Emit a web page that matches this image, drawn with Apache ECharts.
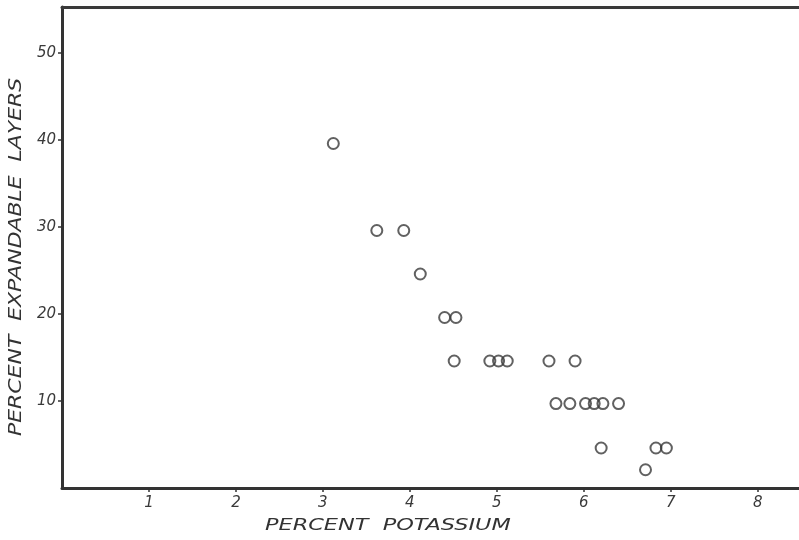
<!DOCTYPE html>
<html>
<head>
<meta charset="utf-8">
<script src="https://cdn.jsdelivr.net/npm/echarts@6/dist/echarts.min.js"></script>
<style>
html,body{margin:0;padding:0;background:#fff;}
#c{width:799px;height:540px;}
</style>
</head>
<body>
<div id="c"></div>
<script>
// Data
const potassium = [3.12, 3.62, 3.93, 4.12, 4.40, 4.53, 4.51, 4.92, 5.02, 5.12, 5.60, 5.90, 5.68, 5.84, 6.02, 6.12, 6.22, 6.40, 6.20, 6.83, 6.95, 6.71];
const expandable = [39.6, 29.6, 29.6, 24.6, 19.6, 19.6, 14.6, 14.6, 14.6, 14.6, 14.6, 14.6, 9.7, 9.7, 9.7, 9.7, 9.7, 9.7, 4.6, 4.6, 4.6, 2.1];
const xTicks = [1, 2, 3, 4, 5, 6, 7, 8];
const yTicks = [10, 20, 30, 40, 50];
const xTitle = 'PERCENT  POTASSIUM';
const yTitle = 'PERCENT  EXPANDABLE  LAYERS';

const ink = '#333';
const labelFont = {color: '#3a3a3a', fontSize: 15, fontStyle: 'italic', fontFamily: 'DejaVu Sans'};

const chart = echarts.init(document.getElementById('c'), null, {renderer: 'canvas'});
chart.setOption({
  backgroundColor: '#fff',
  animation: false,
  grid: {left: 62, right: 0, top: 7, bottom: 52},
  xAxis: [{
    type: 'value', min: 0, max: 8.475, interval: 1,
    splitLine: {show: false},
    axisLine: {lineStyle: {color: ink, width: 3}},
    axisTick: {show: true, inside: false, length: 4, customValues: xTicks, lineStyle: {color: ink, width: 1.5}},
    axisLabel: {customValues: xTicks, margin: 8, ...labelFont,
      formatter: v => xTicks.includes(Math.round(v * 1000) / 1000) ? String(v) : ''}
  }, {
    type: 'value', position: 'top', min: 0, max: 8.475,
    splitLine: {show: false},
    axisLine: {show: true, lineStyle: {color: '#3a3a3a', width: 3}},
    axisTick: {show: false}, axisLabel: {show: false}
  }],
  yAxis: {
    type: 'value', min: 0, max: 55.29, interval: 10,
    splitLine: {show: false},
    axisLine: {lineStyle: {color: ink, width: 3}},
    axisTick: {show: true, inside: false, length: 4, customValues: yTicks, lineStyle: {color: ink, width: 1.5}},
    axisLabel: {customValues: yTicks, margin: 6, ...labelFont,
      formatter: v => yTicks.includes(Math.round(v * 1000) / 1000) ? String(v) : ''}
  },
  graphic: [{
    type: 'text', x: 265, y: 518, scaleX: 1.4,
    style: {text: xTitle, fill: '#333', font: 'italic 16px "DejaVu Sans"', textAlign: 'left', textVerticalAlign: 'top'}
  }, {
    type: 'text', x: 8, y: 436, rotation: Math.PI / 2, scaleX: 1.29,
    style: {text: yTitle, fill: '#333', font: 'italic 17px "DejaVu Sans"', textAlign: 'left', textVerticalAlign: 'top'}
  }],
  series: [{
    type: 'scatter',
    xAxisIndex: 0,
    data: potassium.map((x, i) => [x, expandable[i]]),
    symbol: 'circle',
    symbolSize: 11,
    itemStyle: {color: 'rgba(255,255,255,0)', borderColor: '#3a3a3a', borderWidth: 2}
  }]
});
</script>
</body>
</html>
